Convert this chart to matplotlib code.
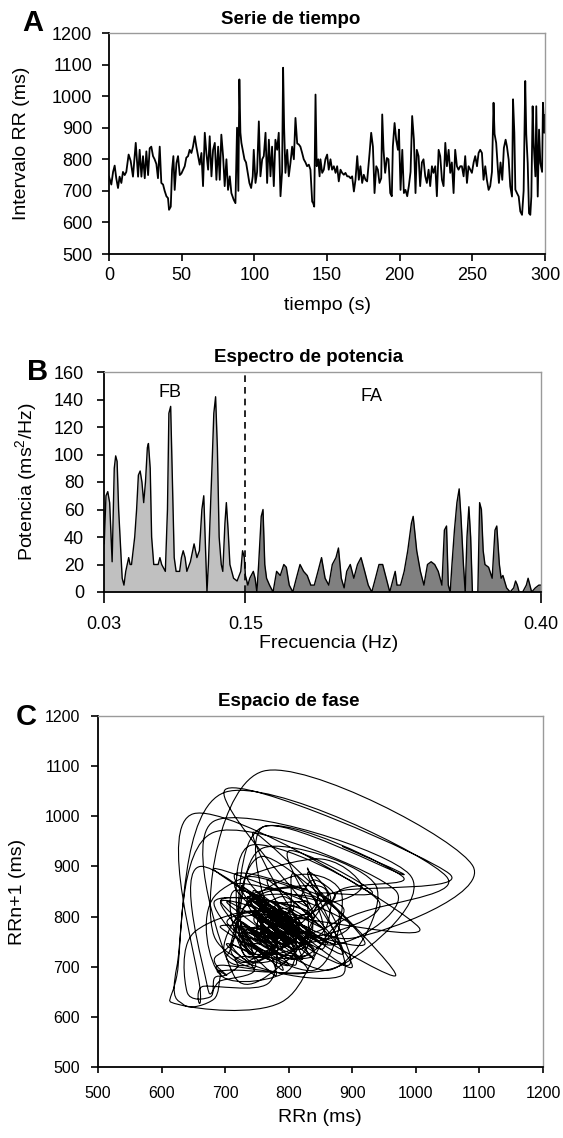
import numpy as np
import matplotlib.pyplot as plt
from matplotlib.path import Path
from matplotlib.patches import PathPatch

plt.rcParams['font.family'] = ['Liberation Sans', 'DejaVu Sans']
plt.rcParams['mathtext.fontset'] = 'custom'
plt.rcParams['mathtext.rm'] = 'Liberation Sans'

# A: serie de tiempo (tiempo en s, intervalo RR en ms)
t_s = [0.0, 1.6, 2.8, 3.9, 5.0, 6.2, 7.3, 8.5, 9.6, 10.8, 11.9, 13.5, 14.9, 16.5, 18.4,
       20.0, 21.1, 22.3, 23.4, 24.6, 25.7, 26.9, 28.0, 29.1, 30.3, 31.4, 32.6, 33.7, 34.9, 36.0,
       37.2, 38.3, 39.5, 40.6, 41.3, 42.5, 43.4, 44.3, 45.2, 46.4, 47.5, 48.7, 49.8, 51.0, 52.1,
       53.2, 54.4, 55.5, 56.7, 57.8, 59.0, 60.1, 61.3, 62.4, 63.6, 64.7, 65.9, 67.0, 68.2, 69.3,
       70.5, 71.6, 72.8, 73.9, 75.1, 76.2, 77.3, 78.5, 79.6, 80.8, 81.9, 83.1, 84.2,
       85.8, 87.0, 88.1, 89.0, 89.7, 90.4, 91.1, 92.0, 93.2, 94.3, 95.5, 96.6, 97.8, 98.9, 99.6,
       100.8, 101.9, 103.1, 104.2, 105.4, 106.5, 107.7, 108.8, 110.0, 111.1, 112.2, 113.4, 114.5,
       115.7, 116.8, 118.0, 119.1, 119.8, 120.5, 121.4, 122.6, 123.7, 124.9, 126.0, 127.2, 128.3,
       129.5, 130.6, 131.7, 132.9, 134.0, 135.2, 136.3, 137.5, 138.6, 139.8, 140.5, 141.2, 142.1,
       142.9, 144.0, 144.9, 145.5, 146.7, 147.8, 148.9, 150.1, 151.2, 152.4, 153.5, 154.7, 155.9,
       157.0, 158.1, 159.3, 160.4, 161.6, 162.7, 163.9, 165.0, 166.2, 167.3, 168.5, 169.6, 170.8,
       171.9, 173.0, 174.2, 175.3, 176.5, 177.6,
       179.3, 180.4, 181.6, 182.7, 183.9, 185.0, 186.1, 187.3, 188.0, 188.9, 190.0, 191.2, 192.3,
       193.5, 194.6, 195.3, 196.5, 197.6, 198.8, 199.5, 200.6, 201.8, 202.9, 204.0, 205.2, 206.3,
       207.5, 208.6, 209.8, 210.9, 211.8, 213.0, 214.1, 215.3, 216.4, 217.6, 218.7, 219.9, 221.0,
       222.2, 223.3, 224.5, 225.6, 226.8, 227.9, 229.1, 230.2, 231.4, 232.5, 233.7, 234.8, 235.9,
       237.1, 238.2, 239.4, 240.5, 241.7, 242.8, 244.0, 245.1, 246.3, 247.4, 248.6, 249.7, 250.9,
       252.0, 253.2, 254.3, 255.4, 256.6, 257.7, 258.9, 260.0, 261.2, 262.3, 263.5, 264.6, 265.3,
       266.4, 267.6, 268.3, 269.4, 270.6, 271.7, 272.9,
       273.8, 275.0, 276.1, 277.3, 278.0, 278.9, 279.6, 280.7, 281.9, 283.0, 284.2, 285.3, 286.4,
       287.1, 288.1, 289.0, 289.9, 290.6, 291.5, 292.2, 293.4, 294.0, 295.0, 295.9, 296.8, 298.0,
       298.6, 299.5, 300.0]
rr_ms = [745, 720, 760, 780, 740, 709, 745, 725, 760, 750, 760, 815, 795, 745, 852,
         745, 830, 745, 810, 740, 825, 750, 835, 840, 810, 800, 785, 740, 840, 725,
         720, 700, 683, 677, 640, 650, 767, 810, 703, 788, 810, 750, 755, 767, 778,
         805, 810, 830, 820, 840, 873, 840, 810, 783, 820, 715, 884, 820, 767, 873,
         746, 830, 852, 735, 840, 735, 878, 810, 715, 800, 703, 746, 693,
         672, 661, 900, 700, 1053, 885, 852, 830, 800, 790, 757, 725, 709, 746, 830,
         725, 760, 920, 746, 800, 810, 884, 725, 862, 746, 840, 715, 862,
         830, 884, 683, 760, 1090, 900, 757, 830, 746, 790, 840, 800, 931,
         850, 847, 840, 820, 800, 790, 778, 783, 767, 666, 661, 650, 1005,
         778, 800, 746, 800, 757, 767, 800, 815, 767, 800, 767, 778, 757,
         778, 730, 767, 757, 751, 757, 746, 746, 740, 746, 698, 735, 810,
         735, 778, 725, 751, 735, 730,
         820, 884, 840, 693, 778, 767, 725, 740, 942, 830, 757, 804, 800,
         693, 683, 840, 915, 862, 830, 894, 703, 830, 693, 703, 683, 715,
         760, 937, 862, 693, 830, 810, 715, 790, 800, 746, 725, 767, 715,
         778, 757, 778, 683, 830, 810, 735, 715, 852, 778, 830, 757, 790,
         693, 830, 778, 767, 778, 778, 746, 810, 725, 778, 767, 757, 790,
         810, 778, 820, 830, 820, 735, 778, 735, 703, 715, 760, 979, 880,
         852, 767, 725, 790, 735, 836, 862,
         841, 799, 714, 682, 990, 884, 704, 693, 682, 635, 624, 700, 1048,
         880, 788, 629, 624, 682, 968, 852, 746, 968, 682, 894, 788, 760,
         979, 884, 940]

# B: espectro de potencia (Hz, ms^2/Hz)
freq_hz = [0.0300, 0.0306, 0.0321, 0.0336, 0.0352, 0.0373, 0.0391, 0.0403, 0.0415, 0.0428,
           0.0458, 0.0473, 0.0488, 0.0513, 0.0525, 0.0537, 0.0564, 0.0580, 0.0595, 0.0610,
           0.0625, 0.0640, 0.0655, 0.0671, 0.0680, 0.0695, 0.0707, 0.0725, 0.0762, 0.0777,
           0.0792, 0.0823, 0.0841, 0.0853, 0.0868, 0.0883, 0.0898, 0.0914, 0.0944, 0.0959,
           0.0974, 0.0990, 0.1005, 0.1035, 0.1066, 0.1090, 0.1111, 0.1132, 0.1148, 0.1163,
           0.1175, 0.1187, 0.1202, 0.1217, 0.1233, 0.1248, 0.1263, 0.1278, 0.1296, 0.1309,
           0.1327, 0.1339, 0.1354, 0.1369, 0.1400, 0.1430, 0.1461, 0.1476, 0.1491, 0.1500,
           0.1521, 0.1537, 0.1567, 0.1582, 0.1597, 0.1612, 0.1634, 0.1649, 0.1664, 0.1679,
           0.1704, 0.1734, 0.1764, 0.1795, 0.1825, 0.1846, 0.1871, 0.1901, 0.1931, 0.1962,
           0.1992, 0.2023, 0.2053, 0.2083, 0.2114, 0.2144, 0.2174, 0.2205, 0.2235, 0.2266,
           0.2287, 0.2311, 0.2335, 0.2357, 0.2387, 0.2417, 0.2448, 0.2478, 0.2509, 0.2539,
           0.2569, 0.2600, 0.2630, 0.2661, 0.2691, 0.2721, 0.2752, 0.2767, 0.2782, 0.2812,
           0.2843, 0.2873, 0.2904, 0.2919, 0.2949, 0.2980, 0.3010, 0.3040, 0.3071, 0.3101,
           0.3131, 0.3162, 0.3183, 0.3201, 0.3216, 0.3232, 0.3247, 0.3268, 0.3289, 0.3308,
           0.3323, 0.3344, 0.3359, 0.3374, 0.3390, 0.3405, 0.3420, 0.3466, 0.3481, 0.3496,
           0.3511, 0.3526, 0.3557, 0.3587, 0.3611, 0.3626, 0.3648, 0.3663, 0.3678, 0.3709,
           0.3739, 0.3769, 0.3785, 0.3800, 0.3815, 0.3845, 0.3876, 0.3891, 0.3906, 0.3921,
           0.3952, 0.3982, 0.4000]
power = [60, 35, 70, 73, 65, 22, 90, 99, 95, 60,
         10, 5, 15, 25, 20, 20, 40, 60, 85, 88,
         80, 65, 80, 105, 108, 90, 40, 20, 20, 25,
         20, 15, 60, 130, 135, 80, 25, 15, 15, 25,
         30, 25, 15, 22, 35, 25, 30, 60, 70, 30,
         0, 20, 55, 90, 130, 142, 105, 40, 20, 15,
         50, 65, 45, 20, 10, 8, 15, 30, 25, 12,
         5, 10, 15, 10, 0, 20, 55, 60, 20, 10,
         5, 0, 15, 12, 20, 18, 5, 0, 10, 20,
         15, 12, 5, 5, 15, 25, 10, 5, 20, 25,
         32, 10, 3, 15, 20, 10, 20, 25, 15, 5,
         0, 10, 20, 20, 10, 0, 10, 15, 5, 5,
         15, 30, 50, 55, 30, 15, 5, 20, 22, 20,
         15, 5, 45, 48, 5, 0, 20, 45, 65, 75,
         55, 20, 0, 40, 62, 40, 0, 0, 65, 60,
         30, 20, 18, 10, 45, 48, 20, 10, 12, 3,
         0, 3, 8, 5, 0, 0, 5, 10, 5, 0,
         3, 5, 5]

W, H = 563, 1138
fig = plt.figure(figsize=(W / 100, H / 100), dpi=100)


def box(l, t, r, b):
    return [l / W, 1 - b / H, (r - l) / W, (b - t) / H]


def txt(x, y, s, **kw):
    fig.text(x / W, 1 - y / H, s, ha='center', va='center', **kw)


def style(ax, size):
    for s in ['top', 'right']:
        ax.spines[s].set_color('#9a9a9a')
        ax.spines[s].set_linewidth(1.0)
    for s in ['left', 'bottom']:
        ax.spines[s].set_color('black')
        ax.spines[s].set_linewidth(1.3)
    ax.tick_params(direction='out', length=5, width=1.2, labelsize=size, colors='black')


# ---- A
axA = fig.add_axes(box(109, 33, 545, 254))
axA.plot(t_s, rr_ms, color='black', lw=1.3)
axA.set_xlim(0, 300)
axA.set_ylim(500, 1200)
axA.set_xticks(np.arange(0, 301, 50))
axA.set_yticks(np.arange(500, 1201, 100))
style(axA, 13)
axA.tick_params(axis='y', pad=7)
axA.tick_params(axis='x', pad=4)
txt(291, 20, 'Serie de tiempo', fontsize=13.5, fontweight='bold')
txt(33, 23, 'A', fontsize=21, fontweight='bold')
txt(22, 143, 'Intervalo RR (ms)', fontsize=14, rotation=90)
txt(327, 306, 'tiempo (s)', fontsize=14)

# ---- B
axB = fig.add_axes(box(103.5, 372, 541, 592))
f = np.array(freq_hz)
p = np.array(power)
axB.fill_between(f, p, where=f <= 0.15, color='#c0c0c0', lw=0)
axB.fill_between(f, p, where=f >= 0.15, color='#808080', lw=0)
axB.plot(f, p, color='black', lw=1.0)
axB.axvline(0.15, color='black', lw=1.2, dashes=(4, 3))
axB.set_xlim(0.03, 0.40)
axB.set_ylim(0, 160)
axB.set_xticks([0.03, 0.15, 0.40])
axB.set_xticklabels(['0.03', '0.15', '0.40'])
axB.set_yticks(np.arange(0, 161, 20))
style(axB, 13)
axB.tick_params(axis='x', length=8, pad=9)
axB.tick_params(axis='y', pad=9)
axB.text(0.0862, 145, 'FB', ha='center', va='center', fontsize=13)
axB.text(0.257, 142, 'FA', ha='center', va='center', fontsize=13)
txt(309, 357, 'Espectro de potencia', fontsize=13.5, fontweight='bold')
txt(38, 372, 'B', fontsize=21, fontweight='bold')
txt(27, 482, 'Potencia (ms$^{2}$/Hz)', fontsize=14, rotation=90)
txt(329, 643, 'Frecuencia (Hz)', fontsize=14)

# ---- C
axC = fig.add_axes(box(98, 716, 543, 1067))
pts = np.column_stack([rr_ms[:-1], rr_ms[1:]]).astype(float)
verts = [pts[0]]
codes = [Path.MOVETO]
n = len(pts)
for i in range(n - 1):
    p0 = pts[max(i - 1, 0)]
    p1 = pts[i]
    p2 = pts[i + 1]
    p3 = pts[min(i + 2, n - 1)]
    verts += [p1 + (p2 - p0) / 6, p2 - (p3 - p1) / 6, p2]
    codes += [Path.CURVE4] * 3
axC.add_patch(PathPatch(Path(verts, codes), fill=False, edgecolor='black', lw=0.8))
axC.set_xlim(500, 1200)
axC.set_ylim(500, 1200)
axC.set_xticks(np.arange(500, 1201, 100))
axC.set_yticks(np.arange(500, 1201, 100))
style(axC, 11.5)
axC.tick_params(axis='x', length=4, pad=10)
axC.tick_params(axis='y', length=5, pad=8)
txt(289, 701, 'Espacio de fase', fontsize=13.5, fontweight='bold')
txt(26, 717, 'C', fontsize=21, fontweight='bold')
txt(18, 892, 'RRn+1 (ms)', fontsize=14, rotation=90)
txt(320, 1117, 'RRn (ms)', fontsize=14)

fig.savefig('out.png', dpi=100)
